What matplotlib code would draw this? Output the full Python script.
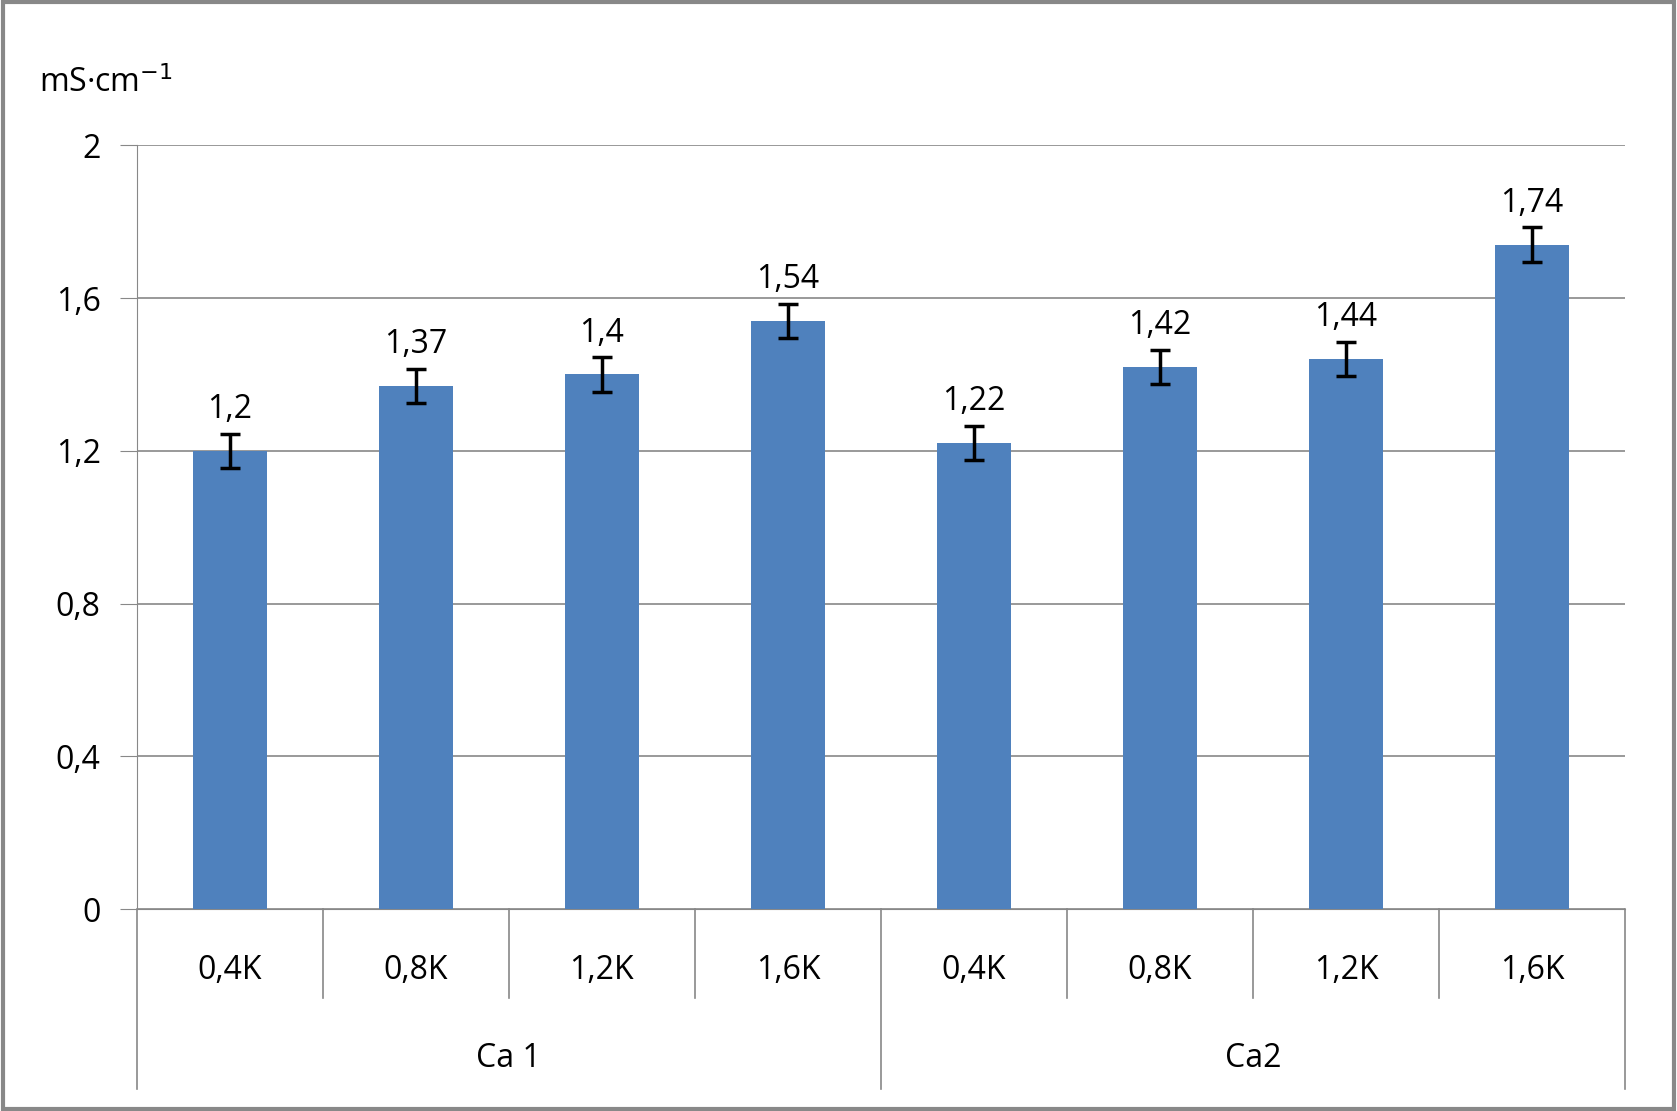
import numpy as np
import matplotlib.pyplot as plt

# Conductivity values per K level, two Ca groups
groups = ["Ca 1", "Ca2"]
levels = ["0,4K", "0,8K", "1,2K", "1,6K"]
values = [1.20, 1.37, 1.40, 1.54, 1.22, 1.42, 1.44, 1.74]
errors = [0.045, 0.045, 0.045, 0.045, 0.045, 0.045, 0.045, 0.045]
value_labels = ["1,2", "1,37", "1,4", "1,54", "1,22", "1,42", "1,44", "1,74"]
yticks = [0, 0.4, 0.8, 1.2, 1.6, 2.0]
ytick_labels = ["0", "0,4", "0,8", "1,2", "1,6", "2"]

plt.rcParams["font.family"] = "Open Sans"
fig = plt.figure(figsize=(16.77, 11.11), dpi=100)
ax = fig.add_axes([0.0816, 0.1817, 0.8874, 0.6875])

x = np.arange(len(values))
ax.bar(x, values, width=0.4, color="#4F81BD", zorder=3)
ax.errorbar(x, values, yerr=errors, fmt="none", ecolor="black",
            elinewidth=2.5, capsize=7, capthick=2.5, zorder=4)
for xi, v, e, lab in zip(x, values, errors, value_labels):
    ax.text(xi, v + e + 0.02, lab, ha="center", va="bottom", fontsize=23)

ax.set_xlim(-0.5, len(values) - 0.5)
ax.set_ylim(0, 2)
ax.set_yticks(yticks)
ax.set_yticklabels(ytick_labels, fontsize=23)
ax.yaxis.grid(True, color="#888888", linewidth=1.2, zorder=0)
ax.tick_params(axis="y", length=12, color="#888888", pad=14)
ax.set_xticks([])
for s in ["top", "right"]:
    ax.spines[s].set_visible(False)
ax.spines["left"].set_color("#888888")
ax.spines["bottom"].set_color("#888888")

tr = ax.get_xaxis_transform()
for i, lab in enumerate(levels * 2):
    ax.text(i, -0.08, lab, transform=tr, ha="center", va="center", fontsize=23)
for b in np.arange(-0.5, len(values), 1.0):
    bottom = -0.236 if b in (-0.5, 3.5, 7.5) else -0.117
    ax.plot([b, b], [0, bottom], transform=tr, color="#888888", lw=1.2, clip_on=False)
for g, lab in enumerate(groups):
    ax.text(1.5 + 4 * g, -0.195, lab, transform=tr, ha="center", va="center", fontsize=23)

fig.text(0.023, 0.925, "mS·cm$^{-1}$", fontsize=23, ha="left", va="center")
fig.patches.append(plt.Rectangle((0.002, 0.002), 0.996, 0.996, transform=fig.transFigure,
                                 fill=False, edgecolor="#888888", lw=3))

plt.savefig("out.png")
